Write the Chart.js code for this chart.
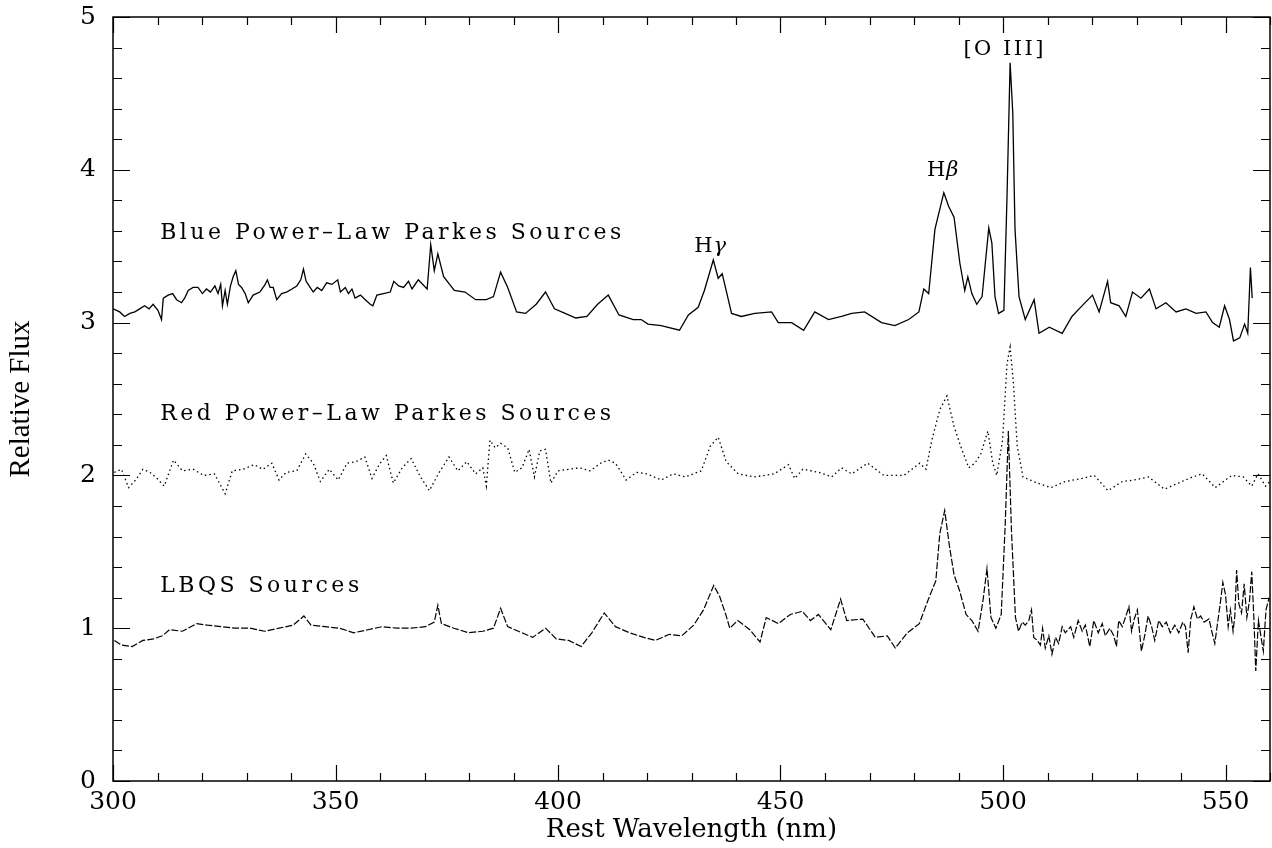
<!DOCTYPE html>
<html>
<head>
<meta charset="utf-8">
<title>Composite spectra</title>
<script src="https://cdn.jsdelivr.net/npm/chart.js@4.4.1/dist/chart.umd.min.js"></script>
<style>
  html, body { margin: 0; padding: 0; background: #fff; }
  #wrap { width: 1272px; height: 848px; }
</style>
</head>
<body>
<div id="wrap"><canvas id="spectra" width="1272" height="848"></canvas></div>
<script>
// tick labels
const xTicks = [300, 350, 400, 450, 500, 550];
const yTicks = [0, 1, 2, 3, 4, 5];

// series names (drawn inside the plot)
const seriesNames = ['Blue Power\u2013Law Parkes Sources', 'Red Power\u2013Law Parkes Sources', 'LBQS Sources'];

// Blue power-law Parkes composite (solid)
const blueNm = [
  300.0, 300.8, 301.5, 302.6, 303.8, 304.9, 306.0, 307.1, 308.1, 309.0,
  310.1, 310.9, 311.3, 312.4, 313.4, 314.3, 315.4, 316.1, 316.9, 318.0,
  319.1, 320.1, 321.0, 321.9, 322.9, 323.6, 324.2, 324.6, 325.2, 325.7,
  326.4, 327.0, 327.6, 328.2, 328.9, 329.7, 330.4, 331.5, 333.0, 334.2,
  334.7, 335.3, 336.0, 336.8, 337.9, 339.0, 340.2, 341.3, 342.2, 342.8,
  343.4, 344.3, 345.0, 345.9, 346.9, 348.0, 349.2, 350.5, 351.1, 352.2,
  352.9, 353.7, 354.4, 355.6, 356.7, 357.8, 358.4, 359.3, 360.8, 362.3,
  363.1, 364.2, 365.3, 366.4, 367.2, 368.6, 370.6, 371.4, 372.2, 373.0,
  374.3, 376.7, 379.1, 381.5, 383.9, 385.5, 387.1, 388.7, 390.7, 392.7,
  395.1, 397.2, 399.2, 401.6, 404.0, 406.5, 408.9, 411.3, 413.7, 416.9,
  418.7, 420.2, 423.2, 427.3, 429.3, 431.5, 432.9, 434.9, 436.0, 436.9,
  439.0, 441.2, 444.2, 448.0, 449.5, 452.5, 455.2, 457.7, 460.8, 463.7,
  466.0, 468.9, 472.7, 475.7, 478.8, 481.1, 482.2, 483.3, 484.0, 484.7,
  486.7, 487.8, 489.0, 490.3, 491.4, 492.1, 493.0, 494.1, 495.3, 496.8,
  497.5, 498.2, 499.0, 500.2, 500.9, 501.6, 502.2, 502.7, 503.6, 505.0,
  507.0, 508.1, 510.4, 513.3, 515.5, 517.1, 520.1, 521.6, 523.5, 524.2,
  526.1, 527.6, 529.1, 531.0, 532.9, 534.4, 536.6, 538.9, 541.1, 543.4,
  545.6, 547.1, 548.6, 549.8, 550.9, 551.8, 553.2, 554.3, 555.0, 555.6,
  556.0];
const blueFlux = [
  3.09, 3.08, 3.07, 3.04, 3.06, 3.07, 3.09, 3.11, 3.09, 3.12,
  3.08, 3.02, 3.16, 3.18, 3.19, 3.15, 3.13, 3.16, 3.21, 3.23,
  3.23, 3.19, 3.22, 3.20, 3.24, 3.19, 3.25, 3.11, 3.21, 3.12,
  3.24, 3.30, 3.34, 3.25, 3.23, 3.19, 3.13, 3.18, 3.20, 3.25,
  3.28, 3.23, 3.23, 3.15, 3.19, 3.20, 3.22, 3.24, 3.28, 3.35,
  3.27, 3.23, 3.20, 3.23, 3.21, 3.26, 3.25, 3.28, 3.20, 3.23,
  3.19, 3.22, 3.16, 3.18, 3.15, 3.12, 3.11, 3.18, 3.19, 3.20,
  3.27, 3.24, 3.23, 3.27, 3.22, 3.28, 3.22, 3.51, 3.34, 3.45,
  3.30, 3.21, 3.20, 3.15, 3.15, 3.17, 3.33, 3.23, 3.07, 3.06,
  3.12, 3.20, 3.09, 3.06, 3.03, 3.04, 3.12, 3.18, 3.05, 3.02,
  3.02, 2.99, 2.98, 2.95, 3.05, 3.10, 3.21, 3.41, 3.29, 3.32,
  3.06, 3.04, 3.06, 3.07, 3.00, 3.00, 2.95, 3.07, 3.02, 3.04,
  3.06, 3.07, 3.00, 2.98, 3.02, 3.07, 3.22, 3.19, 3.40, 3.61,
  3.85, 3.76, 3.69, 3.39, 3.21, 3.30, 3.19, 3.12, 3.17, 3.62,
  3.52, 3.17, 3.06, 3.08, 3.82, 4.70, 4.37, 3.61, 3.17, 3.02,
  3.15, 2.93, 2.97, 2.93, 3.04, 3.09, 3.18, 3.07, 3.27, 3.13,
  3.11, 3.04, 3.20, 3.16, 3.22, 3.09, 3.13, 3.07, 3.09, 3.06,
  3.07, 3.00, 2.97, 3.11, 3.02, 2.88, 2.90, 2.99, 2.93, 3.36,
  3.16];

// Red power-law Parkes composite (dotted)
const redNm = [
  300.3, 301.9, 303.5, 305.1, 306.7, 308.3, 309.9, 311.5, 313.6, 315.6,
  318.0, 320.4, 322.8, 325.2, 326.8, 329.2, 331.7, 333.7, 335.7, 337.3,
  338.9, 341.3, 343.3, 345.0, 346.6, 348.6, 350.6, 352.6, 354.6, 356.6,
  358.2, 359.8, 361.4, 363.0, 365.0, 367.0, 369.1, 371.1, 373.1, 375.5,
  377.5, 379.5, 381.5, 383.1, 383.9, 384.7, 385.9, 387.1, 388.7, 390.3,
  391.9, 393.5, 394.7, 395.9, 397.2, 398.4, 400.0, 402.4, 404.8, 407.2,
  409.6, 411.3, 412.9, 415.3, 417.7, 420.0, 423.2, 425.9, 428.6, 432.2,
  434.2, 436.0, 437.8, 440.5, 444.1, 448.6, 451.8, 453.2, 455.0, 458.6,
  461.5, 463.7, 466.0, 469.6, 473.2, 477.7, 481.3, 482.7, 484.0, 485.8,
  487.4, 489.0, 490.5, 492.3, 493.7, 495.0, 496.6, 497.7, 498.6, 499.9,
  500.9, 501.6, 502.3, 503.2, 504.5, 507.7, 510.8, 514.0, 517.8, 520.5,
  523.6, 526.8, 529.5, 532.7, 536.3, 539.4, 542.6, 544.8, 547.7, 551.4,
  554.0, 555.9, 557.3, 559.0, 560.0];
const redFlux = [
  2.02, 2.04, 1.92, 1.97, 2.04, 2.02, 1.98, 1.93, 2.10, 2.03,
  2.04, 2.00, 2.01, 1.88, 2.03, 2.04, 2.07, 2.04, 2.08, 1.97,
  2.02, 2.03, 2.14, 2.08, 1.96, 2.04, 1.97, 2.08, 2.09, 2.12,
  1.98, 2.07, 2.13, 1.95, 2.05, 2.11, 1.99, 1.90, 2.01, 2.12,
  2.03, 2.09, 2.01, 2.05, 1.93, 2.23, 2.18, 2.21, 2.18, 2.02,
  2.05, 2.17, 1.99, 2.16, 2.17, 1.95, 2.03, 2.04, 2.05, 2.03,
  2.08, 2.10, 2.08, 1.97, 2.02, 2.01, 1.97, 2.01, 1.99, 2.03,
  2.19, 2.25, 2.09, 2.01, 1.99, 2.01, 2.07, 1.98, 2.04, 2.02,
  1.99, 2.05, 2.01, 2.08, 2.00, 2.00, 2.08, 2.04, 2.23, 2.43,
  2.52, 2.32, 2.19, 2.05, 2.08, 2.14, 2.29, 2.08, 2.00, 2.23,
  2.73, 2.84, 2.62, 2.19, 1.99, 1.95, 1.92, 1.96, 1.98, 2.00,
  1.90, 1.96, 1.97, 1.99, 1.91, 1.95, 1.99, 2.01, 1.92, 2.00,
  1.99, 1.93, 2.01, 1.93, 1.96];

// LBQS composite (dashed)
const lbqsNm = [
  300.3, 301.9, 304.3, 306.7, 309.1, 311.1, 312.7, 315.6, 318.8, 321.2,
  324.4, 327.6, 330.8, 334.1, 337.3, 340.5, 342.9, 344.5, 347.7, 350.9,
  354.1, 357.3, 360.5, 363.8, 367.0, 370.2, 372.2, 373.0, 373.8, 376.6,
  379.9, 383.1, 385.5, 387.1, 388.7, 391.1, 394.3, 397.2, 399.6, 402.4,
  405.2, 407.6, 410.4, 412.9, 416.1, 419.3, 421.9, 425.0, 427.8, 430.5,
  432.7, 435.0, 436.3, 437.7, 438.6, 440.4, 443.1, 445.4, 446.8, 449.5,
  452.2, 454.9, 456.7, 458.5, 461.3, 463.5, 464.9, 468.5, 471.3, 474.0,
  475.8, 478.5, 481.2, 483.1, 484.9, 485.8, 486.9, 488.0, 489.0, 490.3,
  491.7, 493.0, 494.4, 495.5, 496.4, 497.3, 498.4, 499.6, 500.5, 501.2,
  501.9, 502.8, 503.5, 504.3, 505.0, 505.8, 506.4, 506.9, 507.7, 508.4,
  508.9, 509.5, 510.3, 511.0, 511.8, 512.5, 513.3, 514.0, 515.2, 515.9,
  516.9, 517.8, 518.5, 519.5, 520.4, 521.4, 522.3, 523.0, 524.0, 524.9,
  525.5, 526.0, 526.8, 527.5, 528.3, 528.9, 529.5, 530.2, 531.1, 531.9,
  532.6, 533.4, 534.1, 535.0, 535.8, 536.7, 537.6, 538.6, 539.5, 540.4,
  541.0, 541.6, 542.2, 542.9, 543.7, 544.4, 545.2, 546.3, 547.0, 547.6,
  548.2, 548.9, 549.4, 550.0, 550.6, 551.1, 551.7, 552.1, 552.5, 553.0,
  553.6, 554.2, 554.8, 555.4, 555.9, 556.4, 556.8, 557.4, 558.0, 558.5,
  559.1, 559.8];
const lbqsFlux = [
  0.92, 0.89, 0.88, 0.92, 0.93, 0.95, 0.99, 0.98, 1.03, 1.02,
  1.01, 1.00, 1.00, 0.98, 1.00, 1.02, 1.08, 1.02, 1.01, 1.00,
  0.97, 0.99, 1.01, 1.00, 1.00, 1.01, 1.04, 1.15, 1.03, 1.00,
  0.97, 0.98, 1.00, 1.13, 1.01, 0.98, 0.94, 1.00, 0.93, 0.92,
  0.88, 0.97, 1.10, 1.01, 0.97, 0.94, 0.92, 0.96, 0.95, 1.02,
  1.12, 1.28, 1.21, 1.09, 1.00, 1.05, 0.99, 0.91, 1.07, 1.03,
  1.09, 1.11, 1.05, 1.09, 0.99, 1.19, 1.05, 1.06, 0.94, 0.95,
  0.87, 0.97, 1.03, 1.18, 1.31, 1.62, 1.77, 1.53, 1.35, 1.24,
  1.09, 1.05, 0.98, 1.18, 1.39, 1.07, 1.00, 1.09, 1.68, 2.29,
  1.64, 1.07, 0.98, 1.04, 1.02, 1.05, 1.12, 0.94, 0.92, 0.89,
  1.00, 0.87, 0.95, 0.83, 0.94, 0.90, 1.01, 0.97, 1.01, 0.94,
  1.05, 0.98, 1.02, 0.88, 1.05, 0.97, 1.03, 0.95, 1.00, 0.95,
  0.88, 1.05, 1.01, 1.07, 1.14, 0.98, 1.06, 1.12, 0.85, 0.96,
  1.08, 1.01, 0.92, 1.05, 1.01, 1.04, 0.97, 1.02, 0.97, 1.04,
  1.01, 0.84, 1.06, 1.14, 1.06, 1.08, 1.04, 1.06, 0.97, 0.90,
  1.03, 1.18, 1.30, 1.22, 1.01, 1.12, 0.98, 1.08, 1.38, 1.16,
  1.10, 1.29, 1.07, 1.18, 1.37, 1.05, 0.72, 1.05, 0.94, 0.85,
  1.12, 1.20];

const toPoints = (xs, ys) => xs.map((x, i) => ({ x: x, y: ys[i] }));

const SERIF = '"DejaVu Serif", "Liberation Serif", serif';

// text inside the plot, anchored in data units (wavelength, flux of the baseline)
const plotLabels = [
  { parts: [[seriesNames[0], false]], nm: 310.6, flux: 3.55, size: 22, spacing: 3.5 },
  { parts: [[seriesNames[1], false]], nm: 310.6, flux: 2.36, size: 22, spacing: 3.5 },
  { parts: [[seriesNames[2], false]], nm: 310.6, flux: 1.24, size: 22, spacing: 3.5 },
  { parts: [['H', false], ['\u03b3', true]], nm: 430.6, flux: 3.46, size: 21, spacing: 1 },
  { parts: [['H', false], ['\u03b2', true]], nm: 482.9, flux: 3.96, size: 21, spacing: 1 },
  { parts: [['[O III]', false]], nm: 491.1, flux: 4.75, size: 21, spacing: 2.5 }
];

// frame with inward ticks on all four sides + the text inside the plot
const framePlugin = {
  id: 'frame',
  afterDatasetsDraw(chart) {
    const { ctx, chartArea: a, scales } = chart;
    const sx = scales.x, sy = scales.y;
    ctx.save();
    ctx.strokeStyle = '#000';
    ctx.lineWidth = 1.5;
    ctx.strokeRect(a.left, a.top, a.right - a.left, a.bottom - a.top);

    ctx.lineWidth = 1.2;
    ctx.beginPath();
    for (let v = sx.min; v <= sx.max; v += 10) {
      const px = Math.round(sx.getPixelForValue(v)) + 0.5;
      const len = v % 50 === 0 ? 16 : 8;
      ctx.moveTo(px, a.bottom); ctx.lineTo(px, a.bottom - len);
      ctx.moveTo(px, a.top); ctx.lineTo(px, a.top + len);
    }
    for (let i = 0; i <= sy.max * 5; i++) {
      const py = Math.round(sy.getPixelForValue(i / 5)) + 0.5;
      const len = i % 5 === 0 ? 17 : 9;
      ctx.moveTo(a.left, py); ctx.lineTo(a.left + len, py);
      ctx.moveTo(a.right, py); ctx.lineTo(a.right - len, py);
    }
    ctx.stroke();

    ctx.fillStyle = '#000';
    ctx.textBaseline = 'alphabetic';
    ctx.textAlign = 'left';
    plotLabels.forEach(lab => {
      let px = sx.getPixelForValue(lab.nm);
      const py = sy.getPixelForValue(lab.flux);
      ctx.letterSpacing = lab.spacing + 'px';
      lab.parts.forEach(([t, italic]) => {
        ctx.font = (italic ? 'italic ' : '') + lab.size + 'px ' + SERIF;
        ctx.fillText(t, px, py);
        px += ctx.measureText(t).width;
      });
    });
    ctx.restore();
  }
};

function renderSpectra() {
  const ctx = document.getElementById('spectra').getContext('2d');
  new Chart(ctx, {
    type: 'line',
    data: {
      datasets: [
        {
          label: seriesNames[0],
          data: toPoints(blueNm, blueFlux),
          borderColor: '#000',
          borderWidth: 1.3
        },
        {
          label: seriesNames[1],
          data: toPoints(redNm, redFlux),
          borderColor: '#000',
          borderWidth: 1.3,
          borderDash: [1.5, 3]
        },
        {
          label: seriesNames[2],
          data: toPoints(lbqsNm, lbqsFlux),
          borderColor: '#000',
          borderWidth: 1.2,
          borderDash: [7, 2]
        }
      ]
    },
    options: {
      responsive: false,
      animation: false,
      parsing: false,
      elements: { point: { radius: 0 }, line: { tension: 0, fill: false } },
      layout: { padding: { top: 17, right: 2, left: 0, bottom: 0 } },
      plugins: { legend: { display: false }, tooltip: { enabled: false } },
      scales: {
        x: {
          type: 'linear',
          min: 300,
          max: 560,
          afterBuildTicks: s => { s.ticks = xTicks.map(v => ({ value: v })); },
          afterFit: s => { s.height = 67; },
          grid: { display: false, drawTicks: false },
          border: { display: false },
          ticks: { color: '#000', font: { family: SERIF, size: 25 }, padding: 6, maxRotation: 0, autoSkip: false },
          title: {
            display: true,
            text: 'Rest Wavelength (nm)',
            color: '#000',
            font: { family: SERIF, size: 26 },
            padding: { top: 0, bottom: 2 }
          }
        },
        y: {
          type: 'linear',
          min: 0,
          max: 5,
          afterBuildTicks: s => { s.ticks = yTicks.map(v => ({ value: v })); },
          // fixed width; do not let the label padding push the plot area down
          afterFit: s => { s.width = 113; s.paddingTop = 0; s.paddingBottom = 0; },
          grid: { display: false, drawTicks: false },
          border: { display: false },
          ticks: { color: '#000', font: { family: SERIF, size: 25 }, padding: 17, autoSkip: false },
          title: {
            display: true,
            text: 'Relative Flux',
            color: '#000',
            font: { family: '"Liberation Serif", serif', size: 29 },
            padding: { top: 4, bottom: 0 }
          }
        }
      }
    },
    plugins: [framePlugin]
  });
}

renderSpectra();
</script>
</body>
</html>
